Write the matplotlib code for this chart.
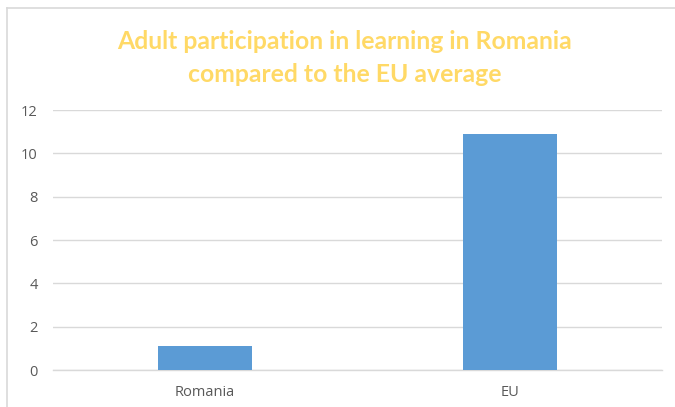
import matplotlib.pyplot as plt
from matplotlib.lines import Line2D

categories = ["Romania", "EU"]
values = [1.1, 10.9]
yticks = [0, 2, 4, 6, 8, 10, 12]

TITLE = "Adult participation in learning in Romania\ncompared to the EU average"

fig = plt.figure(figsize=(6.75, 4.07), dpi=100)
ax = fig.add_axes([0.0785, 0.0909, 0.9022, 0.6388])

x = range(len(categories))
ax.bar(x, values, width=0.31, color="#5B9BD5", zorder=3)
ax.set_xlim(-0.5, len(categories) - 0.5)
ax.set_ylim(0, 12)
ax.set_yticks(yticks)
ax.set_xticks(list(x))
ax.set_xticklabels(categories)
ax.grid(axis="y", color="#D9D9D9", linewidth=1.0, zorder=0)
for s in ("top", "right", "left"):
  ax.spines[s].set_visible(False)
ax.spines["bottom"].set_color("#D9D9D9")
ax.spines["bottom"].set_linewidth(1.0)
ax.tick_params(length=0, colors="#595959", labelsize=10.5, pad=11)
ax.tick_params(axis="x", pad=11)
for lab in ax.get_xticklabels() + ax.get_yticklabels():
  lab.set_fontfamily("Open Sans")

fig.text(0.511, 0.858, TITLE, ha="center", va="center", fontsize=17.8, fontweight="bold",
         color="#FFD966", family="Lato", linespacing=1.5)

# chart frame (top and left edges visible)
fig.add_artist(Line2D([7 / 675, 7 / 675], [0, 1 - 8 / 407], color="#D9D9D9", linewidth=1.2, transform=fig.transFigure))
fig.add_artist(Line2D([7 / 675, 1], [1 - 8 / 407, 1 - 8 / 407], color="#D9D9D9", linewidth=1.2, transform=fig.transFigure))

fig.savefig("out.png", dpi=100, facecolor="white")
